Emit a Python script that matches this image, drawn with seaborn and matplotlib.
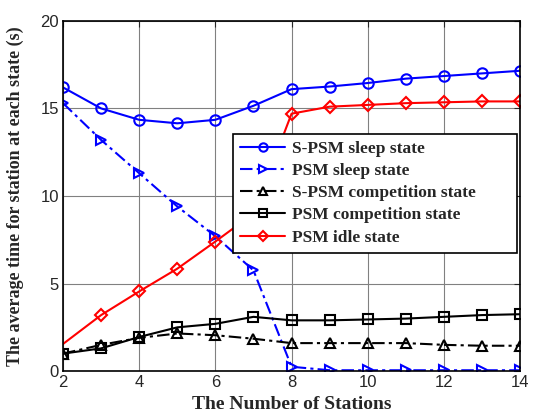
import matplotlib
matplotlib.use("Agg")
import matplotlib.pyplot as plt
import seaborn as sns
import pandas as pd
import numpy as np

# number of stations
stations = [2, 3, 4, 5, 6, 7, 8, 9, 10, 11, 12, 13, 14]

# average time (s) per state
spsm_sleep = [16.2, 15.0, 14.35, 14.15, 14.35, 15.15, 16.1, 16.25, 16.45, 16.7, 16.85, 17.0, 17.15]
psm_sleep = [15.3, 13.2, 11.3, 9.4, 7.7, 5.75, 0.25, 0.05, 0.05, 0.05, 0.05, 0.05, 0.05]
spsm_comp = [1.0, 1.5, 1.9, 2.15, 2.05, 1.85, 1.6, 1.6, 1.6, 1.6, 1.5, 1.45, 1.45]
psm_comp = [1.0, 1.3, 1.95, 2.5, 2.7, 3.1, 2.9, 2.9, 2.95, 3.0, 3.1, 3.2, 3.25]
psm_idle = [1.55, 3.2, 4.55, 5.85, 7.4, 9.0, 14.7, 15.1, 15.2, 15.3, 15.35, 15.4, 15.4]

labels = ["S-PSM sleep state", "PSM sleep state", "S-PSM competition state",
          "PSM competition state", "PSM idle state"]

df = pd.DataFrame({"stations": stations,
                   labels[0]: spsm_sleep,
                   labels[1]: psm_sleep,
                   labels[2]: spsm_comp,
                   labels[3]: psm_comp,
                   labels[4]: psm_idle})

sns.set_style("white")
plt.rcParams["font.family"] = ["Liberation Sans", "DejaVu Sans"]

fig = plt.figure(figsize=(5.34, 4.17), dpi=100)
ax = fig.add_axes([0.118, 0.110, 0.856, 0.840])

dashdot = (0, (6, 2, 1.5, 2))
styles = [
    dict(color="blue", linestyle="-", marker="o", markersize=7.5),
    dict(color="blue", linestyle=dashdot, marker=">", markersize=7.5),
    dict(color="black", linestyle=dashdot, marker="^", markersize=7.5),
    dict(color="black", linestyle="-", marker="s", markersize=6.5),
    dict(color="red", linestyle="-", marker="D", markersize=6.5, markevery=list(range(1, 13))),
]

for lab, st in zip(labels, styles):
    sns.lineplot(data=df, x="stations", y=lab, ax=ax, label=lab,
                 linewidth=1.5, markerfacecolor="none", markeredgewidth=1.5,
                 markeredgecolor=st["color"], **st)

ax.set_xlim(2, 14)
ax.set_ylim(0, 20)
ax.set_xticks([2, 4, 6, 8, 10, 12, 14])
ax.set_yticks([0, 5, 10, 15, 20])
ax.grid(True, color="#808080", linewidth=0.8)
ax.tick_params(direction="in", top=True, right=True, labelsize=12, length=4, pad=3)
for sp in ax.spines.values():
    sp.set_color("black")
    sp.set_linewidth(1.2)

ax.set_xlabel("The Number of Stations", fontsize=14, fontweight="bold",
              family="Liberation Serif", labelpad=4)
ax.set_ylabel("The average time for station at each state (s)", fontsize=13,
              fontweight="bold", family="Liberation Serif", labelpad=12)

# legend box stretched to the width used in the original
leg = ax.legend(loc="upper left", bbox_to_anchor=(0.372, 0.339, 0.621, 0.339),
                mode="expand", frameon=True,
                fancybox=False, edgecolor="black", framealpha=1,
                prop={"family": "Liberation Serif", "weight": "bold", "size": 12.5},
                handlelength=2.6, labelspacing=0.35, borderpad=0.4, handletextpad=0.4,
                borderaxespad=0, markerscale=0.8)
leg.get_frame().set_linewidth(1.2)

fig.savefig("out.png", dpi=100)
